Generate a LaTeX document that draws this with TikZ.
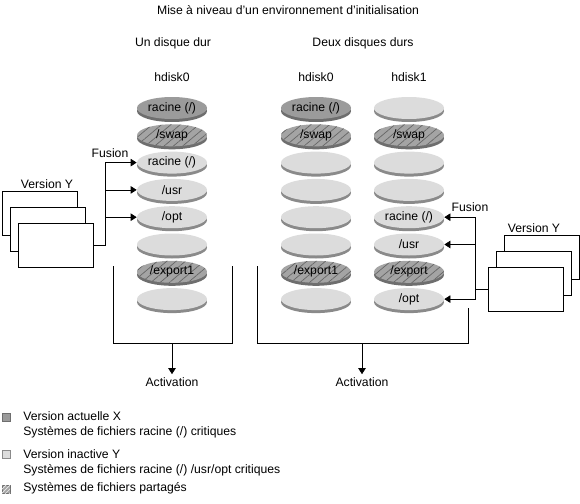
\documentclass[tikz,border=0pt]{standalone}
\usepackage{fontspec}
\setmainfont{Liberation Sans}
\usepackage{xcolor}
\usetikzlibrary{arrows.meta, positioning, shapes.geometric, shadows, patterns.meta}

\definecolor{curface}{HTML}{9B9B9B}
\definecolor{currim}{HTML}{6E6E6E}
\definecolor{inface}{HTML}{DCDCDC}
\definecolor{inrim}{HTML}{8A8A8A}
\definecolor{shface}{HTML}{A4A4A4}
\definecolor{shline}{HTML}{666666}

\begin{document}
\begin{tikzpicture}[
    x=1pt, y=-1pt, line width=0.7pt,
    every node/.style={font=\fontsize{12.2}{15}\selectfont},
    disk/.style={ellipse, minimum width=70pt, minimum height=22pt, inner sep=0pt},
    current/.style={disk, fill=curface, drop shadow={shadow xshift=0pt, shadow yshift=-3pt, opacity=1, fill=currim}},
    inactive/.style={disk, fill=inface, drop shadow={shadow xshift=0pt, shadow yshift=-3pt, opacity=1, fill=inrim}},
    shared/.style={disk, fill=shface, drop shadow={shadow xshift=0pt, shadow yshift=-3pt, opacity=1, fill=currim},
        postaction={pattern={Lines[angle=40, distance=6pt, line width=0.7pt]}, pattern color=shline}},
    version/.style={draw, fill=white, minimum width=75pt, minimum height=44pt, inner sep=0pt},
    swatch/.style={draw, minimum size=8pt, inner sep=0pt},
    merge/.style={-{Triangle[width=7.5pt, length=6pt]}}
]
    \useasboundingbox (0,0) rectangle (580,503);

    % Titles
    \node (title) at (288,10) {Mise à niveau d'un environnement d'initialisation};
    \node (one) at (173,43) {Un disque dur};
    \node (two) at (363,43) {Deux disques durs};
    \node (hdL) at (172,77) {hdisk0};
    \node (hdM) at (316,77) {hdisk0};
    \node (hdR) at (409,77) {hdisk1};

    % Un disque dur
    \node[current]  (L1) at (172,108)   {racine (/)};
    \node[shared]   (L2) at (172,135.3) {/swap};
    \node[inactive] (L3) at (172,162.6) {racine (/)};
    \node[inactive] (L4) at (172,189.9) {/usr};
    \node[inactive] (L5) at (172,217.2) {/opt};
    \node[inactive] (L6) at (172,244.5) {};
    \node[shared]   (L7) at (172,271.8) {/export1};
    \node[inactive] (L8) at (172,299.1) {};

    % Deux disques durs: hdisk0
    \node[current]  (M1) at (316,108)   {racine (/)};
    \node[shared]   (M2) at (316,135.3) {/swap};
    \node[inactive] (M3) at (316,162.6) {};
    \node[inactive] (M4) at (316,189.9) {};
    \node[inactive] (M5) at (316,217.2) {};
    \node[inactive] (M6) at (316,244.5) {};
    \node[shared]   (M7) at (316,271.8) {/export1};
    \node[inactive] (M8) at (316,299.1) {};

    % Deux disques durs: hdisk1
    \node[inactive] (R1) at (409,108)   {};
    \node[shared]   (R2) at (409,135.3) {/swap};
    \node[inactive] (R3) at (409,162.6) {};
    \node[inactive] (R4) at (409,189.9) {};
    \node[inactive] (R5) at (409,217.2) {racine (/)};
    \node[inactive] (R6) at (409,244.5) {/usr};
    \node[shared]   (R7) at (409,271.8) {/export};
    \node[inactive] (R8) at (409,299.1) {/opt};

    % Version Y, left
    \node[version] (vyA) at (39.5,213) {};
    \node[version] (vyB) at (47.5,229) {};
    \node[version] (vyC) at (55.5,245) {};
    \node (verL) at (47,184) {Version Y};
    \node (fusL) at (110,153) {Fusion};

    \draw (vyC.east) -- ++(12,0) coordinate (busL) -- (busL |- L3.west);
    \draw[merge] (busL |- L3.west) -- (L3.west);
    \draw[merge] (busL |- L4.west) -- (L4.west);
    \draw[merge] (busL |- L5.west) -- (L5.west);

    % Version Y, right
    \node[version] (vyD) at (541.5,257) {};
    \node[version] (vyE) at (533.5,273) {};
    \node[version] (vyF) at (525.5,289) {};
    \node (verR) at (534,228) {Version Y};
    \node (fusR) at (470,207) {Fusion};

    \draw (vyF.west) -- ++(-12,0) coordinate (busR);
    \draw (busR |- R5.east) -- (busR |- R8.east);
    \draw[merge] (busR |- R5.east) -- (R5.east);
    \draw[merge] (busR |- R6.east) -- (R6.east);
    \draw[merge] (busR |- R8.east) -- (R8.east);

    % Activation
    \draw (113,266) -- (113,343) -- (232,343) -- (232,266);
    \draw (257,266) -- (257,343) -- (468,343) -- (468,308);
    \coordinate (baseL) at (172,343);
    \coordinate (baseM) at (362,343);
    \node[inner sep=3pt] (actL) at (172,382) {Activation};
    \node[inner sep=3pt] (actM) at (362,382) {Activation};
    \draw[merge] (baseL) -- (actL.north);
    \draw[merge] (baseM) -- (actM.north);

    % Legend
    \node[swatch, draw=currim, fill=curface] (keyX) at (6,417) {};
    \node[swatch, draw=inrim, fill=inface] (keyY) at (6,454) {};
    \node[swatch, draw=currim, fill=shface, postaction={pattern={Lines[angle=45, distance=2.8pt, line width=0.6pt]}, pattern color=white!80!shface}] (keyS) at (6,489) {};
    \node[anchor=west, align=left, inner sep=0pt] (txtX) at (23,424.5) {Version actuelle X\\Systèmes de fichiers racine (/) critiques};
    \node[anchor=west, align=left, inner sep=0pt] (txtY) at (23,463) {Version inactive Y\\Systèmes de fichiers racine (/) /usr/opt critiques};
    \node[anchor=west, inner sep=0pt] (txtS) at (23,488) {Systèmes de fichiers partagés};

\end{tikzpicture}
\end{document}
